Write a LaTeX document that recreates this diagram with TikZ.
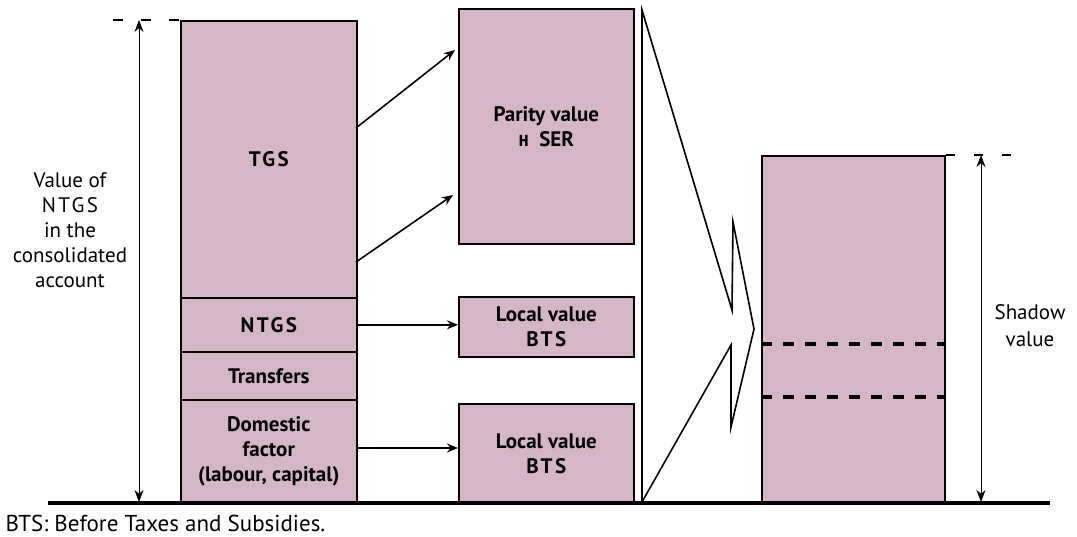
\documentclass[tikz,border=0pt]{standalone}
\usepackage{fontspec}
\setmainfont{PT Sans}
\newfontfamily\monofont{Liberation Mono}
\usetikzlibrary{arrows.meta}
\definecolor{boxfill}{RGB}{213,182,198}
\newcommand{\spaced}[1]{{\addfontfeature{LetterSpace=12}#1}}
\begin{document}
\begin{tikzpicture}[x=1pt,y=-1pt,
  box/.style={draw=black, line width=1.6pt, fill=boxfill, inner sep=0pt, anchor=north west,
    align=center, font=\fontsize{21}{25}\selectfont\bfseries},
  conn/.style={line width=1.6pt, -{Stealth[length=11pt,width=9pt]}},
  dim/.style={line width=0.8pt, {Stealth[length=12pt,width=9pt]}-{Stealth[length=12pt,width=9pt]}},
  lbl/.style={align=center, font=\fontsize{21}{25}\selectfont},
  ext/.style={line width=1.4pt, dash pattern=on 10pt off 18pt},
  inner/.style={line width=3.5pt, dash pattern=on 11pt off 11pt},
  funnel/.style={line width=1.6pt, line join=miter}]
\useasboundingbox (0,0) rectangle (1077,537);
% left stacked column
\node[box, minimum width=176, minimum height=277] (tgs) at (180,20) {\spaced{TGS}};
\node[box, minimum width=176, minimum height=54] (ntgs) at (180,297) {\spaced{NTGS}};
\node[box, minimum width=176, minimum height=48] (trans) at (180,351) {Transfers};
\node[box, minimum width=176, minimum height=104] (dom) at (180,399) {Domestic\\factor\\(labour, capital)};
% middle boxes
\node[box, minimum width=175, minimum height=235] (par) at (458,8) {Parity value\\{\monofont\fontsize{17}{25}\selectfont H}\ \ SER};
\node[box, minimum width=175, minimum height=60] (loc1) at (458,296) {Local value\\\spaced{BTS}};
\node[box, minimum width=175, minimum height=100] (loc2) at (458,403) {Local value\\\spaced{BTS}};
% right box
\node[box, minimum width=183, minimum height=348] (sh) at (761,155) {};
\draw[inner] (sh.west |- 0,344) -- (sh.east |- 0,344);
\draw[inner] (sh.west |- 0,397) -- (sh.east |- 0,397);
% baseline
\coordinate (bl0) at (48,503);
\coordinate (bl1) at (1050,503);
\draw[line width=4.5pt] (bl0) -- (bl1);
% connectors
\coordinate (a1s) at (356,128);
\coordinate (a1e) at (455,50);
\coordinate (a2s) at (356,262);
\coordinate (a2e) at (453,195);
\draw[conn] (a1s) -- (a1e);
\draw[conn] (a2s) -- (a2e);
\draw[conn] (ntgs.east) -- (ntgs.east -| loc1.west);
\draw[conn] (dom.east |- 0,448) -- (loc2.west |- 0,448);
% funnel shape
\coordinate (f0) at (642,10);
\coordinate (f1) at (732,310);
\coordinate (f2) at (733,222);
\coordinate (f3) at (754,329);
\coordinate (f4) at (731,427);
\coordinate (f5) at (731,345);
\coordinate (f6) at (642,502);
\draw[funnel] (f0) -- (f1) -- (f2) -- (f3) -- (f4) -- (f5) -- (f6) -- cycle;
% left dimension
\coordinate (ld0) at (139,20);
\coordinate (ld1) at (139,502);
\coordinate (le0) at (113,20);
\draw[dim] (ld0) -- (ld1);
\draw[ext] (le0) -- (tgs.north west);
\node[lbl] (lval) at (70,230) {Value of\\\spaced{NTGS}\\in the\\consolidated\\account};
% right dimension
\coordinate (rd0) at (981,155);
\coordinate (rd1) at (981,502);
\coordinate (re1) at (1011,155);
\draw[dim] (rd0) -- (rd1);
\draw[ext, dash pattern=on 9pt off 19pt] (sh.north east) -- (re1);
\node[lbl, font=\fontsize{21}{27}\selectfont] (sval) at (1030,326) {Shadow\\value};
% footnote
\node[lbl, anchor=west, font=\fontsize{23}{27}\selectfont] (fn) at (2,523) {BTS: Before Taxes and Subsidies.};
\end{tikzpicture}
\end{document}
